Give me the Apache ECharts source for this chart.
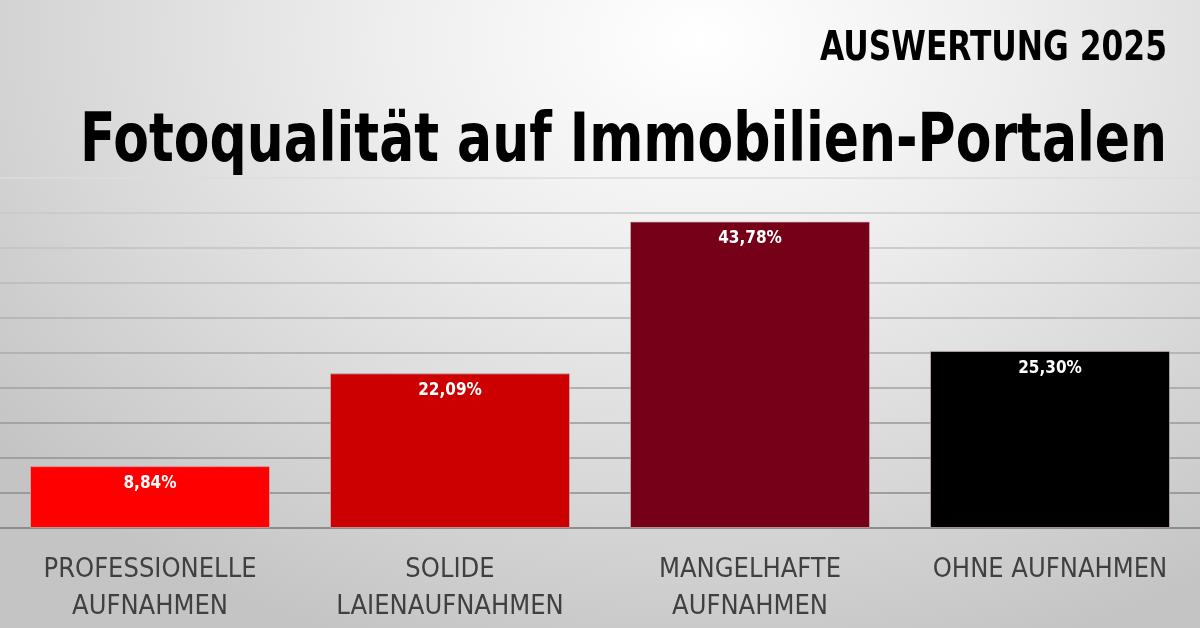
<!DOCTYPE html>
<html>
<head>
<meta charset="utf-8">
<script src="https://cdn.jsdelivr.net/npm/echarts@6/dist/echarts.min.js"></script>
<style>
html,body{margin:0;padding:0;width:1200px;height:628px;overflow:hidden;}
body{background:radial-gradient(ellipse 900px 650px at 700px 40px,#ffffff 0%,#eeeeee 35%,#d8d8d8 70%,#c4c4c4 100%);}
#c{width:1200px;height:628px;}
</style>
</head>
<body>
<div id="c"></div>
<script>
const categories = ['PROFESSIONELLE\nAUFNAHMEN', 'SOLIDE\nLAIENAUFNAHMEN', 'MANGELHAFTE\nAUFNAHMEN', 'OHNE AUFNAHMEN'];
const values = [8.84, 22.09, 43.78, 25.30];
const barColors = ['#ff0000', '#cc0000', '#760018', '#000000'];
const titleText = 'Fotoqualität auf Immobilien-Portalen';
const subtitleText = 'AUSWERTUNG 2025';

const FONT = '"DejaVu Sans Condensed",sans-serif';
const mctx = document.createElement('canvas').getContext('2d');
function fitScale(text, size, target){
  mctx.font = 'bold ' + size + 'px ' + FONT;
  return target / mctx.measureText(text).width;
}
const titleSize = 68, subSize = 41;
const titleScale = fitScale(titleText, titleSize, 1087);
const subScale = fitScale(subtitleText, subSize, 347);

const chart = echarts.init(document.getElementById('c'), null, {renderer:'canvas'});
chart.setOption({
  backgroundColor: 'transparent',
  animation: false,
  graphic: [
    {type:'text', x:1167, y:29, scaleX: subScale, style:{text: subtitleText, textAlign:'right', textVerticalAlign:'top', font:'bold ' + subSize + 'px ' + FONT, fill:'#000'}},
    {type:'text', x:1167, y:109, scaleX: titleScale, style:{text: titleText, textAlign:'right', textVerticalAlign:'top', font:'bold ' + titleSize + 'px ' + FONT, fill:'#000'}}
  ],
  grid: {left: 0, right: 0, top: 178, bottom: 100, containLabel:false},
  xAxis: {
    type: 'category',
    data: categories,
    axisTick: {show:false},
    axisLine: {show:true, lineStyle:{color:'#888888', width:1.5}},
    axisLabel: {color:'#404040', fontFamily:FONT, fontSize:27, lineHeight:37, margin:23, interval:0}
  },
  yAxis: {
    type: 'value', min: 0, max: 50, interval: 5,
    axisLabel: {show:false}, axisLine:{show:false}, axisTick:{show:false},
    splitLine: {show:true, lineStyle:{width:1.5, color:['#888888','#8c8c8c','#929292','#999999','#a2a2a2','#aaaaaa','#b2b2b2','#bbbbbb','#c2c2c2','#c8c8c8','#dcdcdc']}}
  },
  series: [{
    type: 'bar',
    data: values.map((v,i)=>({value:v, itemStyle:{color:barColors[i]}})),
    barWidth: 240,
    itemStyle: {borderColor:'rgba(200,180,180,0.7)', borderWidth:1},
    label: {
      show: true, position: 'insideTop', distance: 9,
      formatter: p => p.value.toFixed(2).replace('.', ',') + '%',
      color: '#ffffff', fontFamily: FONT, fontWeight: 'bold', fontSize: 17
    }
  }]
});
</script>
</body>
</html>
